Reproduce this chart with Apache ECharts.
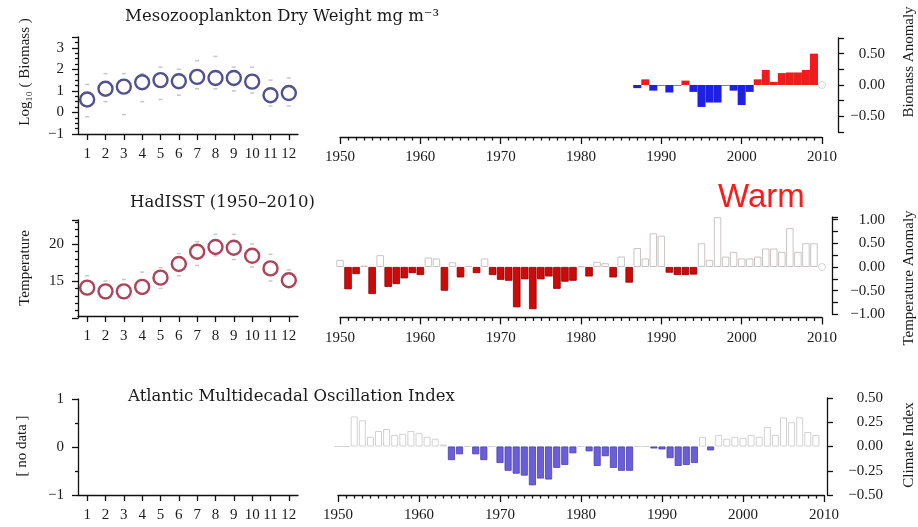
<!DOCTYPE html>
<html><head><meta charset="utf-8">
<script src="https://cdn.jsdelivr.net/npm/echarts@6/dist/echarts.min.js"></script>
<style>html,body{margin:0;padding:0;background:#fff}#c{width:918px;height:527px}</style>
</head><body><div id="c"></div>
<script>
// ---------- data ----------
const months = ['1','2','3','4','5','6','7','8','9','10','11','12'];
const biomassMean = [0.6,1.1,1.2,1.4,1.5,1.45,1.65,1.6,1.6,1.43,0.8,0.9];
const biomassHi   = [1.3,1.8,1.8,1.8,2.1,2.0,2.4,2.6,2.1,2.1,1.5,1.6];
const biomassLo   = [-0.2,0.5,-0.1,0.5,0.6,0.8,1.1,1.1,1.0,0.9,0.3,0.3];
const tempMean = [14.1,13.6,13.6,14.2,15.45,17.3,18.95,19.6,19.5,18.4,16.7,15.1];
const tempHi   = [15.7,15.0,15.2,16.2,16.8,18.7,20.3,21.3,21.3,20.0,18.6,16.5];
const tempLo   = [13.2,12.6,12.7,13.2,14.0,15.7,17.1,18.4,17.9,16.9,15.0,14.2];

const biomassStartYear = 1987;
const biomassAnom = [-0.05,0.09,-0.09,-0.01,-0.12,-0.01,0.07,-0.11,-0.35,-0.28,-0.28,-0.01,-0.09,-0.32,-0.11,
                     0.09,0.24,0.05,0.19,0.2,0.2,0.24,0.5];

const tempStartYear = 1950;
const tempAnom = [
  0.15,-0.47,-0.15,0.03,-0.57,0.25,-0.42,-0.36,-0.24,-0.13,
  -0.17,0.2,0.18,-0.5,0.1,-0.22,0.02,-0.13,0.18,-0.17,
  -0.27,-0.29,-0.85,-0.26,-0.89,-0.26,-0.2,-0.46,-0.31,-0.29,
  0.01,-0.2,0.11,0.08,-0.22,0.22,-0.33,0.4,0.18,0.71,
  0.66,-0.12,-0.17,-0.17,-0.16,0.5,0.15,1.05,0.22,0.32,
  0.18,0.18,0.22,0.39,0.39,0.32,0.82,0.32,0.5,0.5];

const amoStartYear = 1950;
const amoIndex = [
  0,0,0.31,0.27,0.1,0.16,0.18,0.12,0.13,0.16,
  0.14,0.1,0.08,0.02,-0.14,-0.08,0,-0.08,-0.14,0,
  -0.17,-0.25,-0.28,-0.3,-0.4,-0.33,-0.34,-0.22,-0.19,-0.07,
  0,-0.05,-0.2,-0.1,-0.22,-0.25,-0.25,0,0,-0.02,
  -0.03,-0.12,-0.2,-0.19,-0.17,0.1,-0.04,0.12,0.08,0.1,
  0.09,0.12,0.1,0.2,0.12,0.3,0.25,0.3,0.15,0.12];

// ---------- styles ----------
const SERIF = 'Liberation Serif';
const TITLE_FONT = 'DejaVu Serif';
const lineS = {color:'#111', width:1.3};
const LBL = {fontFamily:SERIF, fontSize:15, color:'#1a1a1a'};
const minus = v => String(v).replace('-','\u2212');
const fmt2 = v => (v<0?'\u2212':'') + Math.abs(v).toFixed(2);

function catX(g, off){
  return {type:'category', gridIndex:g, data:months, boundaryGap:true, offset:off||0,
    axisLine:{show:true,onZero:false,lineStyle:lineS},
    axisTick:{show:true,alignWithLabel:true,length:6,lineStyle:lineS},
    axisLabel:Object.assign({},LBL,{margin:13,interval:0}), splitLine:{show:false}};
}
function yearX(g, off){
  return {type:'value', gridIndex:g, min:1950, max:2010, interval:10, offset:off||0,
    axisLine:{show:true,onZero:false,lineStyle:lineS},
    axisTick:{show:true,length:7,lineStyle:lineS},
    minorTick:{show:true,splitNumber:10,length:3.5,lineStyle:lineS},
    axisLabel:Object.assign({},LBL,{margin:13,formatter:v=>String(v)}),
    splitLine:{show:false}, minorSplitLine:{show:false}};
}
function leftY(g,min,max,interval,split,showFn){
  return {type:'value', gridIndex:g, min:min, max:max, interval:interval,
    axisLine:{show:true,onZero:false,lineStyle:lineS},
    axisTick:{show:true,length:6,lineStyle:lineS},
    minorTick:{show:true,splitNumber:split,length:3,lineStyle:lineS},
    axisLabel:Object.assign({},LBL,{margin:14,formatter:v=>showFn(v)?minus(v):''}),
    splitLine:{show:false}, minorSplitLine:{show:false}};
}
function rightY(g,min,max,off,margin,showFn){
  return {type:'value', gridIndex:g, position:'right', offset:off, min:min, max:max, interval:0.25,
    axisLine:{show:true,onZero:false,lineStyle:lineS},
    axisTick:{show:true,length:6,lineStyle:lineS},
    axisLabel:Object.assign({},LBL,{margin:margin,align:'right',formatter:v=>showFn(v)?fmt2(v):''}),
    splitLine:{show:false}};
}
const half = v => Math.abs(v*2-Math.round(v*2))<1e-6;

const spread = (hi,lo) => hi.map((v,i)=>[i,v]).concat(lo.map((v,i)=>[i,v]));

const biomassBars = biomassAnom.map((v,i)=>({value:[biomassStartYear+i,v],
  itemStyle:{color: v>=0?'#ee1c1c':'#1f1fe6'}}));
const tempBars = tempAnom.map((v,i)=>({value:[tempStartYear+i,v],
  itemStyle: v<0 ? {color:'#cc0a0a',borderColor:'#8a0000',borderWidth:0.8}
                 : {color:'rgba(255,255,255,0)',borderColor:'#cbc4c4',borderWidth:1}}));
const amoBars = amoIndex.map((v,i)=>({value:[amoStartYear+i,v],
  itemStyle: v<0 ? {color:'#6a5fd8',borderColor:'#4a3fae',borderWidth:0.8}
                 : {color:'rgba(255,255,255,0)',borderColor:'#d2d2d2',borderWidth:1}}));

function vtext(text,x,y,size){
  return {type:'text', x:x, y:y, rotation:Math.PI/2,
    style:{text:text, x:0, y:0, align:'center', verticalAlign:'middle',
      font:'normal '+(size||15)+'px '+SERIF, fill:'#1a1a1a'}};
}
function htext(text,x,y,size){
  return {type:'text', x:x, y:y,
    style:{text:text, x:0, y:0, align:'left', verticalAlign:'middle',
      font:'normal '+(size||16.5)+'px '+TITLE_FONT, fill:'#1a1a1a'}};
}

const chart = echarts.init(document.getElementById('c'), null, {renderer:'canvas'});
chart.setOption({
  animation:false,
  backgroundColor:'#fff',
  grid:[
    {left:78, top:37, width:220, height:97},
    {left:340, top:38, width:482, height:94},
    {left:78, top:220, width:220, height:98},
    {left:340, top:217.2, width:482, height:97.2},
    {left:78, top:399, width:220, height:96},
    {left:338, top:398, width:486, height:97}
  ],
  xAxis:[catX(0), yearX(1,5), catX(2,-2), yearX(3,3), catX(4), yearX(5,0)],
  yAxis:[
    leftY(0,-1,3.5,1,4,v=>Number.isInteger(v)),
    rightY(1,-0.75,0.75,16,47,half),
    leftY(2,10,23.24,5,5,v=>v===15||v===20),
    rightY(3,-1,1.05,10,53,v=>half(v) && Math.abs(v)<=1),
    leftY(4,-1,1,1,2,v=>Number.isInteger(v)),
    rightY(5,-0.5,0.5,3,56,v=>true)
  ],
  series:[
    {type:'scatter', xAxisIndex:0, yAxisIndex:0, data:spread(biomassHi,biomassLo),
      symbol:'rect', symbolSize:[4,1.5], itemStyle:{color:'#b8b8b8'}, silent:true},
    {type:'scatter', xAxisIndex:0, yAxisIndex:0, data:biomassMean,
      symbol:'circle', symbolSize:14, z:5,
      itemStyle:{color:'#ffffff', borderColor:'#262673', borderWidth:2.4}},
    {type:'bar', xAxisIndex:1, yAxisIndex:1, data:biomassBars, barWidth:8},
    {type:'scatter', xAxisIndex:1, yAxisIndex:1, data:[[2010,0]], symbol:'circle', symbolSize:7,
      itemStyle:{color:'#fff', borderColor:'#cccccc', borderWidth:1}},
    {type:'scatter', xAxisIndex:2, yAxisIndex:2, data:spread(tempHi,tempLo),
      symbol:'rect', symbolSize:[4,1.5], itemStyle:{color:'#b8b8b8'}, silent:true},
    {type:'scatter', xAxisIndex:2, yAxisIndex:2, data:tempMean,
      symbol:'circle', symbolSize:14, z:5,
      itemStyle:{color:'#ffffff', borderColor:'#9a1530', borderWidth:2.4}},
    {type:'bar', xAxisIndex:3, yAxisIndex:3, data:tempBars, barWidth:7.5},
    {type:'scatter', xAxisIndex:3, yAxisIndex:3, data:[[2010,0]], symbol:'circle', symbolSize:7,
      itemStyle:{color:'#fff', borderColor:'#cccccc', borderWidth:1}},
    {type:'bar', xAxisIndex:5, yAxisIndex:5, data:amoBars, barWidth:7}
  ],
  graphic:[
    htext('Mesozooplankton Dry Weight mg m\u207B\u00B3',125,17),
    htext('HadISST (1950\u20132010)',130,203),
    htext('Atlantic Multidecadal Oscillation Index',128,397),
    {type:'text', x:718, y:198, style:{text:'Warm', x:0, y:0, align:'left', verticalAlign:'middle',
      font:'normal 33px Liberation Sans', fill:'#ff1a1a'}},
    vtext('Log\u2081\u2080 ( Biomass )',25,72),
    vtext('Temperature',25,268),
    vtext('[ no data ]',22,446),
    vtext('Biomass Anomaly',909,62),
    vtext('Temperature Anomaly',909,278),
    vtext('Climate Index',909,445)
  ]
});
</script></body></html>
